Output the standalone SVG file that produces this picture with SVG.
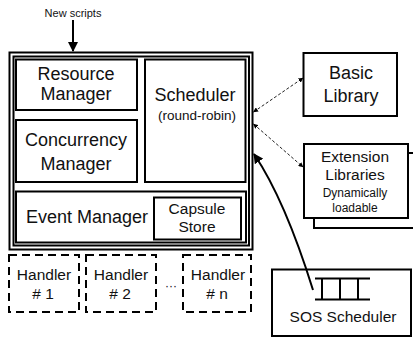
<svg xmlns="http://www.w3.org/2000/svg" width="413" height="338" viewBox="0 0 413 338">
<defs>
<style>
.box{fill:#fff;stroke:#000;stroke-width:2}
.dbox{fill:none;stroke:#000;stroke-width:2;stroke-dasharray:8,5}
.t{font-family:"Liberation Sans",Arial,sans-serif;fill:#111;text-anchor:middle}
.dash{fill:none;stroke:#222;stroke-width:1;stroke-dasharray:3,2}
.solid{fill:none;stroke:#000;stroke-width:2}
</style>
<marker id="sa" viewBox="0 0 10 10" refX="9" refY="5" markerWidth="5" markerHeight="5" orient="auto-start-reverse" markerUnits="userSpaceOnUse"><path d="M0,0 L10,5 L0,10 z" fill="#000"/></marker>
<marker id="big" viewBox="0 0 10 10" refX="9" refY="5" markerWidth="10" markerHeight="10" orient="auto" markerUnits="userSpaceOnUse"><path d="M0,0 L10,5 L0,10 z" fill="#000"/></marker>
</defs>
<rect width="413" height="338" fill="#fff"/>

<g id="new-scripts">
<text class="t" x="73" y="17" font-size="11">New scripts</text>
</g>

<g id="runtime">
<rect class="box" x="9.5" y="52.5" width="243" height="197" fill="none"/>
<rect class="box" x="13.5" y="56.5" width="235.5" height="189"/>
</g>

<g id="resource-manager">
<rect class="box" x="16" y="59.5" width="121" height="50.5"/>
<text class="t" x="76" y="80" font-size="18">Resource</text>
<text class="t" x="76" y="100" font-size="18">Manager</text>
</g>

<g id="concurrency-manager">
<rect class="box" x="16" y="120" width="121" height="62"/>
<text class="t" x="76" y="146" font-size="18">Concurrency</text>
<text class="t" x="76" y="170" font-size="18">Manager</text>
</g>

<g id="scheduler">
<rect class="box" x="145" y="59.5" width="100.5" height="122.5"/>
<text class="t" x="195" y="101" font-size="18">Scheduler</text>
<text class="t" x="197" y="120" font-size="13.5">(round-robin)</text>
</g>

<g id="event-manager">
<rect class="box" x="16" y="191.5" width="230" height="51"/>
<text class="t" x="87" y="223" font-size="18">Event Manager</text>
</g>

<g id="capsule-store">
<rect class="box" x="154" y="197.5" width="87" height="42"/>
<text class="t" x="197" y="214" font-size="15.5">Capsule</text>
<text class="t" x="197" y="232" font-size="15.5">Store</text>
</g>

<g id="handler-1">
<rect class="dbox" x="9" y="255" width="70" height="57"/>
<text class="t" x="44" y="280" font-size="15.5">Handler</text>
<text class="t" x="43" y="299" font-size="15.5"># 1</text>
</g>
<g id="handler-2">
<rect class="dbox" x="86" y="255" width="70" height="57"/>
<text class="t" x="121" y="280" font-size="15.5">Handler</text>
<text class="t" x="120" y="299" font-size="15.5"># 2</text>
</g>
<g id="handler-dots">
<text class="t" x="171" y="290" font-size="12">···</text>
</g>
<g id="handler-n">
<rect class="dbox" x="183" y="255" width="68" height="57"/>
<text class="t" x="218" y="280" font-size="15.5">Handler</text>
<text class="t" x="217" y="299" font-size="15.5"># n</text>
</g>

<g id="basic-library">
<rect class="box" x="303.5" y="53" width="93.5" height="63"/>
<text class="t" x="351" y="79" font-size="18">Basic</text>
<text class="t" x="351" y="102" font-size="18">Library</text>
</g>

<g id="extension-libraries">
<rect class="box" x="314" y="153" width="110" height="75"/>
<rect class="box" x="304" y="144" width="104" height="74"/>
<text class="t" x="355" y="162" font-size="15.5">Extension</text>
<text class="t" x="355" y="180" font-size="15.5">Libraries</text>
<text class="t" x="355" y="197" font-size="12">Dynamically</text>
<text class="t" x="355" y="212" font-size="12">loadable</text>
</g>

<g id="sos-scheduler">
<rect class="box" x="272" y="269.5" width="139" height="66.5"/>
<path d="M315,278.5 H370 M315,299.5 H370 M322,278.5 V299.5 M340,278.5 V299.5 M358,278.5 V299.5" stroke="#000" stroke-width="2" fill="none"/>
<text class="t" x="343" y="322" font-size="15.5">SOS Scheduler</text>
</g>

<g id="connectors">
<line class="solid" x1="73" y1="20" x2="73" y2="51" marker-end="url(#big)"/>
<line class="dash" x1="253.5" y1="112" x2="303" y2="78" marker-start="url(#sa)" marker-end="url(#sa)"/>
<line class="dash" x1="253.5" y1="124" x2="303" y2="167" marker-start="url(#sa)" marker-end="url(#sa)"/>
<path class="solid" d="M313,290 Q285,200 254,154" marker-end="url(#big)"/>
</g>
</svg>
